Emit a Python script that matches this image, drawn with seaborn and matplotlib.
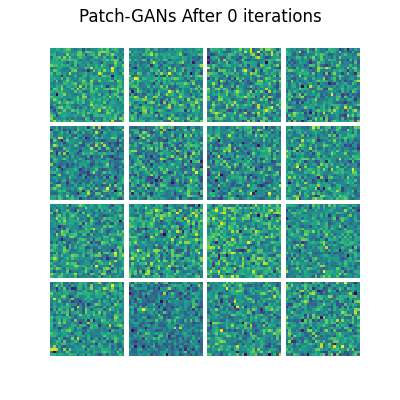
import numpy as np
import matplotlib
matplotlib.use("Agg")
import matplotlib.pyplot as plt
import seaborn as sns

# Chart text and layout of the grid
title = "Patch-GANs After 0 iterations"
n_rows, n_cols = 4, 4
patch_size = 28

# The 16 patches are untrained-generator noise: 28x28 cells each, which
# cannot be read back cell by cell, so a fixed-seed normal field stands in.
rng = np.random.default_rng(0)
patches = [rng.normal(0.0, 1.0, (patch_size, patch_size)) for _ in range(n_rows * n_cols)]

sns.set_style("white")
fig, axes = plt.subplots(n_rows, n_cols, figsize=(4, 4), dpi=100)
fig.subplots_adjust(left=0.125, right=0.9, bottom=0.11, top=0.88, wspace=0.05, hspace=0.05)

for ax, patch in zip(axes.flat, patches):
    sns.heatmap(patch, ax=ax, cmap="viridis", cbar=False, square=True,
                xticklabels=False, yticklabels=False)
    ax.set_axis_off()

fig.suptitle(title, fontsize=12, color="black")
fig.savefig("out.png", dpi=100)
